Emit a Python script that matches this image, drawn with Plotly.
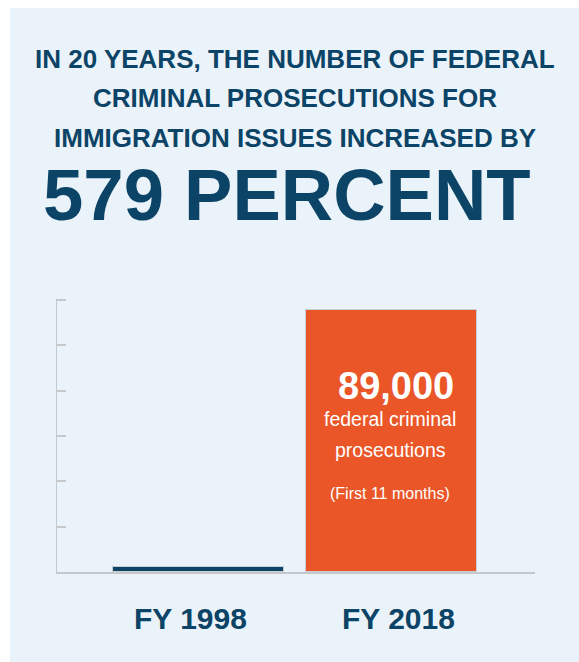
import plotly.graph_objects as go

# ---- data ----
categories = ["FY 1998", "FY 2018"]
values = [1700, 89000]
bar_colors = ["#0b4466", "#ea5628"]
title_lines = ["IN 20 YEARS, THE NUMBER OF FEDERAL",
               "CRIMINAL PROSECUTIONS FOR",
               "IMMIGRATION ISSUES INCREASED BY"]
headline = "579 PERCENT"
bar_label_value = "89,000"
bar_label_lines = ["federal criminal", "prosecutions"]
bar_note = "(First 11 months)"

W, H = 579, 662
L, R, T, B = 56, 44, 297, 90
pw, ph = W - L - R, H - T - B

DARK = "#0b4466"
BG = "#ebf3fa"
AXIS = "#c6c9cc"
FONT = "Liberation Sans, Arial, Helvetica, sans-serif"

def px_x(x):
    return (x - L) / pw

def px_y(y):
    return (H - B - y) / ph

per_px = values[1] / 262.0
y_top = per_px * ph
n_ticks = 6
tick_step = per_px * 272 / n_ticks
tick_vals = [tick_step * i for i in range(1, n_ticks + 1)]

x_pos = list(range(len(categories)))
x_lo, x_hi = -0.738, 1.743

fig = go.Figure()
fig.add_trace(go.Bar(
    x=x_pos, y=values, width=0.886,
    marker=dict(color=bar_colors, line=dict(color="#c9ced3", width=1)),
    hoverinfo="skip", showlegend=False,
))

def ann(text, x, y, size, color, **kw):
    d = dict(text=text, x=px_x(x), y=px_y(y), xref="paper", yref="paper",
             showarrow=False, xanchor="center", yanchor="middle",
             font=dict(family=FONT, size=size, color=color))
    d.update(kw)
    return d

annotations = []
title_y = [59, 98, 138]
for line, yy in zip(title_lines, title_y):
    annotations.append(ann("<b>" + line + "</b>", 294.5, yy, 26, DARK))
annotations.append(ann("<b>" + headline + "</b>", 287, 194, 72.5, DARK))

# bar text
annotations.append(ann("<b>" + bar_label_value + "</b>", 395.5, 386, 38, "white"))
for line, yy in zip(bar_label_lines, [419, 450]):
    annotations.append(ann(line, 390, yy, 19.5, "white"))
annotations.append(ann(bar_note, 390, 493, 16, "white"))

# category labels
for cat, cx in zip(categories, [190.5, 398]):
    annotations.append(ann("<b>" + cat + "</b>", cx, 618.5, 30, DARK))

fig.update_layout(
    width=W, height=H,
    margin=dict(l=L, r=R, t=T, b=B, pad=0),
    paper_bgcolor="white", plot_bgcolor="rgba(0,0,0,0)",
    annotations=annotations,
    shapes=[dict(type="rect", xref="paper", yref="paper", layer="below",
                 x0=px_x(10), x1=px_x(579), y0=px_y(662), y1=px_y(8),
                 fillcolor=BG, line=dict(width=0))],
    xaxis=dict(range=[x_lo, x_hi], showgrid=False, zeroline=False,
               showline=True, linecolor=AXIS, linewidth=2,
               tickvals=[x_hi - 0.002], ticktext=[""], ticks="inside", ticklen=5,
               tickwidth=2, tickcolor=AXIS, fixedrange=True),
    yaxis=dict(range=[0, y_top], showgrid=False, zeroline=False,
               showline=False,
               tickvals=tick_vals, ticktext=[""] * n_ticks,
               ticks="inside", ticklen=10, tickwidth=2, tickcolor=AXIS,
               fixedrange=True),
    bargap=0,
)
# vertical axis line spanning from baseline to the top tick
fig.add_trace(go.Scatter(x=[x_lo, x_lo], y=[0, tick_vals[-1]], mode="lines",
                         line=dict(color=AXIS, width=2), cliponaxis=False,
                         hoverinfo="skip", showlegend=False))

fig.write_html("out.html", config={"displayModeBar": False})
